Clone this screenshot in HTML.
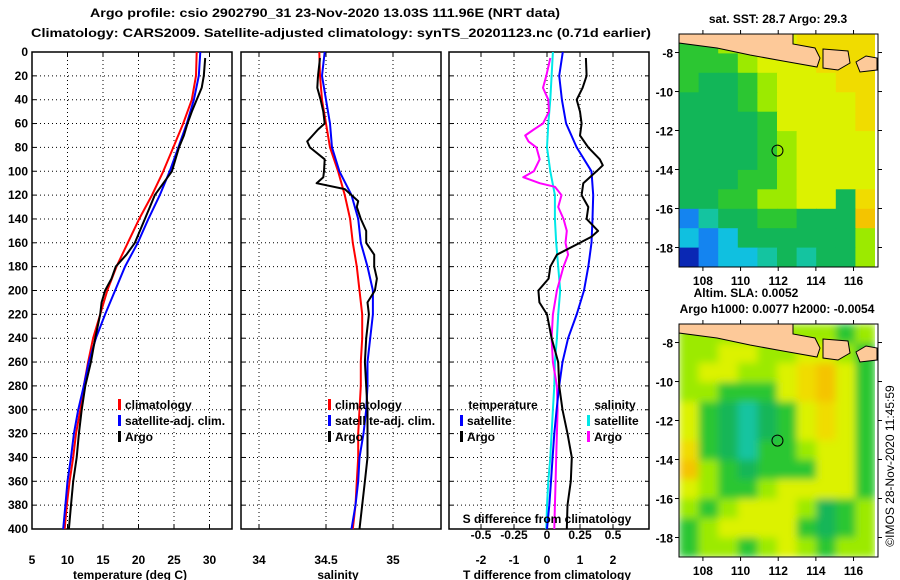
<!DOCTYPE html>
<html><head><meta charset="utf-8"><style>
body{margin:0;background:#fff;}
svg{display:block;font-family:"Liberation Sans",Arial,sans-serif;}
text{font-weight:bold;font-size:12px;fill:#000;}
</style></head><body>
<svg id="fig" width="900" height="580" viewBox="0 0 900 580" xmlns="http://www.w3.org/2000/svg">
<defs>
<filter id="smooth" x="0" y="0" width="100%" height="100%"><feGaussianBlur stdDeviation="4" edgeMode="duplicate"/></filter>
<clipPath id="clip1"><rect x="679" y="34" width="196" height="233"/></clipPath>
<clipPath id="clip2"><rect x="679" y="324" width="196" height="233"/></clipPath>
</defs>
<text x="325" y="17" text-anchor="middle" font-size="13" textLength="470" lengthAdjust="spacingAndGlyphs">Argo profile: csio 2902790_31 23-Nov-2020 13.03S 111.96E (NRT data)</text>
<text x="341" y="37" text-anchor="middle" font-size="13" textLength="620" lengthAdjust="spacingAndGlyphs">Climatology: CARS2009. Satellite-adjusted climatology: synTS_20201123.nc (0.71d earlier)</text>
<g id="g1"></g>
<g id="g2"></g>
<g id="g3"></g>
<g id="m1"></g>
<g id="m2"></g>
<text x="778" y="23" text-anchor="middle">sat. SST: 28.7 Argo: 29.3</text>
<text x="746" y="297" text-anchor="middle">Altim. SLA: 0.0052</text>
<text x="777" y="313" text-anchor="middle">Argo h1000: 0.0077 h2000: -0.0054</text>
<text transform="translate(894,466) rotate(-90)" text-anchor="middle" style="font-weight:normal" font-size="12">©IMOS 28-Nov-2020 11:45:59</text>
</svg>
<script>
// ---- Temperature panel data ----
const tClimDepth=[0,20,40,60,80,100,120,140,160,180,200,220,240,260,280,300,320,340,360,380,400];
const tClim=[28.2,28.1,27.5,26.3,24.9,23.5,21.9,20.1,18.5,16.9,15.6,14.6,13.6,12.9,12.3,11.8,11.2,10.8,10.3,9.9,9.6];
const tSatDepth=[0,20,40,60,80,100,120,140,160,180,200,220,240,260,280,300,320,340,360,380,400];
const tSat=[28.7,28.5,27.8,26.8,25.6,24.4,23.0,21.4,19.9,18.1,16.7,15.3,14.0,13.0,12.3,11.5,10.9,10.5,10.0,9.7,9.4];
const tArgoDepth=[5,20,30,40,50,60,70,80,100,120,130,140,160,170,180,190,200,210,220,240,260,280,300,320,340,360,380,400];
const tArgo=[29.4,29.2,28.9,28.2,27.5,26.9,26.4,25.7,24.7,22.3,21.6,20.9,19.5,18.3,16.8,16.2,15.3,14.8,14.6,13.9,13.3,12.5,12.0,11.6,11.3,10.8,10.5,10.2];
// ---- Salinity panel data ----
const sClimDepth=[0,20,40,60,80,100,120,140,160,180,200,220,240,260,280,300,320,340,360,380,400];
const sClim=[34.45,34.455,34.47,34.5,34.53,34.59,34.64,34.68,34.70,34.73,34.75,34.77,34.77,34.76,34.76,34.75,34.74,34.74,34.73,34.72,34.70];
const sSatDepth=[0,20,40,60,80,100,120,140,160,180,200,220,240,260,280,300,320,340,360,380,400];
const sSat=[34.49,34.47,34.5,34.53,34.545,34.6,34.69,34.74,34.76,34.81,34.85,34.85,34.83,34.81,34.81,34.80,34.78,34.75,34.74,34.72,34.69];
const sArgoDepth=[5,20,30,40,50,60,65,70,75,80,90,100,105,110,115,125,130,140,150,160,170,180,190,200,210,220,240,260,280,300,320,340,360,380,400];
const sArgo=[34.455,34.44,34.435,34.46,34.48,34.49,34.44,34.40,34.36,34.38,34.49,34.485,34.48,34.43,34.64,34.74,34.73,34.76,34.80,34.80,34.86,34.86,34.88,34.865,34.81,34.82,34.80,34.79,34.80,34.81,34.81,34.81,34.79,34.77,34.75];
// ---- Difference panel data ----
const dTSatDepth=[0,20,40,60,80,100,120,140,160,180,200,220,240,260,280,300,320,340,360,380,400];
const dTSat=[0.48,0.37,0.45,0.58,0.9,1.35,1.4,1.38,1.35,1.25,1.12,0.9,0.64,0.47,0.37,0.29,0.22,0.17,0.12,0.07,0.0];
const dTArgoDepth=[5,20,30,40,50,60,70,80,90,95,100,110,120,130,140,150,155,160,170,180,190,200,210,220,230,240,260,280,300,320,340,360,380,400];
const dTArgo=[1.18,1.2,1.08,0.9,1.0,1.05,1.0,1.25,1.6,1.69,1.5,1.1,1.05,1.25,1.2,1.55,1.35,1.0,0.3,0.1,0.05,-0.26,-0.23,0.0,0.07,0.14,0.34,0.37,0.47,0.62,0.75,0.72,0.62,0.6];
const dSSatDepth=[0,20,40,60,80,100,120,140,160,180,200,220,240,260,280,300,320,340,360,380,400];
const dSSat=[0.045,0.035,0.025,0.01,0.0,0.025,0.06,0.06,0.07,0.085,0.1,0.085,0.075,0.06,0.055,0.045,0.035,0.025,0.01,0.0,-0.005];
const dSArgoDepth=[5,20,30,40,50,60,65,70,75,80,90,100,105,110,113,120,130,140,150,160,170,180,190,200,220,240,260,280,300,320,340,360,380,400];
const dSArgo=[0.025,-0.005,-0.03,0.01,0.015,-0.03,-0.1,-0.165,-0.14,-0.08,-0.055,-0.1,-0.18,-0.055,0.06,0.11,0.085,0.125,0.15,0.14,0.16,0.125,0.1,0.075,0.045,0.035,0.045,0.075,0.08,0.075,0.07,0.065,0.06,0.055];
const depthTicks=[0,20,40,60,80,100,120,140,160,180,200,220,240,260,280,300,320,340,360,380,400];
const tTicks=[5,10,15,20,25,30];
const sTicks=[34,34.5,35];
const sTickLabels=["34","34.5","35"];
const dTTicks=[-2,-1,0,1,2];
const dSTicks=[-0.5,-0.25,0,0.25,0.5];
const dSTickLabels=["-0.5","-0.25","0","0.25","0.5"];
// ---- Maps ----
const latTicks=[-8,-10,-12,-14,-16,-18];
const lonTicks=[108,110,112,114,116];
const argoLon=111.96, argoLat=-13.03;
const sstGrid=["GGggYYOOOO","GGGgYYYOOO","GDDGgYYYOO","DDDGgYYYYO","DDDDGYYYYO","DDDDGgYYYY","DDDDGgYYYY","DDDGGgYYYY","DDGGggYYDO","BTDDGGDDDo","CBCDDDDDDg","NBCCTDTDDg"];
const slaGrid=["ggggggggGg","ggYYggYYgG","gYYggYOoYG","ggGGGYOoYG","YGDTDGYOYG","YGDTDGYOYG","OGDTGGgYYG","ogGDGGGYYG","YgGGgYYYYG","gGgYYYgDGg","GgYYYYGDGg","GggGgYgGgg"];
const pal={L:"#fdc999",Y:"#dcf200",O:"#f0dc00",o:"#f4c400",g:"#9cea00",G:"#2cc632",D:"#12b658",T:"#14c4a0",C:"#10c0e0",B:"#1484f0",N:"#0a28b4"};

const NS="http://www.w3.org/2000/svg";
function mk(tag,attrs,parent){const e=document.createElementNS(NS,tag);for(const k in attrs)e.setAttribute(k,attrs[k]);parent.appendChild(e);return e;}
const yTop=52,yBot=529;
function yD(d){return yTop+d*(yBot-yTop)/400;}

function panel(g,x0,x1,xs,xt,xlab,yLabels){
  mk("rect",{x:x0,y:yTop,width:x1-x0,height:yBot-yTop,fill:"#fff",stroke:"none"},g);
  depthTicks.forEach((d,i)=>{
    if(d>0&&d<400){const gl=mk("line",{x1:x0,x2:x1,y1:yD(d),y2:yD(d),stroke:"#000","stroke-width":1,"stroke-dasharray":"1,3"},g);
    
    }
    mk("line",{x1:x0,x2:x0+4,y1:yD(d),y2:yD(d),stroke:"#000"},g);
    mk("line",{x1:x1-4,x2:x1,y1:yD(d),y2:yD(d),stroke:"#000"},g);
    if(yLabels){const t=mk("text",{x:x0-4,y:yD(d)+4,"text-anchor":"end"},g);t.textContent=d;
      
      }
  });
  xt.forEach((v,i)=>{
    const x=xs(v);
    if(x>x0+1&&x<x1-1){const gl=mk("line",{x1:x,x2:x,y1:yTop,y2:yBot,stroke:"#000","stroke-dasharray":"1,3"},g);
    
    }
    mk("line",{x1:x,x2:x,y1:yBot-4,y2:yBot,stroke:"#000"},g);
    mk("line",{x1:x,x2:x,y1:yTop,y2:yTop+4,stroke:"#000"},g);
    const t=mk("text",{x:x,y:564,"text-anchor":"middle"},g);t.textContent=xlab[i];
    
    
  });
  const fr=mk("rect",{x:x0,y:yTop,width:x1-x0,height:yBot-yTop,fill:"none",stroke:"#000","stroke-width":1.5},g);
  
  
}
function line(g,xs,depth,vals,color,w,name){
  const pts=depth.map((d,i)=>xs(vals[i]).toFixed(1)+","+yD(d).toFixed(1)).join(" ");
  const p=mk("polyline",{points:pts,fill:"none",stroke:color,"stroke-width":w,"stroke-linejoin":"round"},g);
  
  
}
function legend(g,x,y,color,label,name){
  mk("rect",{x:x,y:y-10,width:3,height:11,fill:color},g);
  const t=mk("text",{x:x+7,y:y},g);t.textContent=label;
  
  
}
function label(g,x,y,s,name){const t=mk("text",{x:x,y:y,"text-anchor":"middle"},g);t.textContent=s;
  
  return t;}

// Panel 1
const g1=document.getElementById("g1");
const xT=v=>32+(v-5)*7.1;
panel(g1,32,232,xT,tTicks,tTicks.map(String),true);
line(g1,xT,tClimDepth,tClim,"#f00",2,"temp-climatology-line");
line(g1,xT,tSatDepth,tSat,"#00f",2,"temp-satellite-line");
line(g1,xT,tArgoDepth,tArgo,"#000",2,"temp-argo-line");
legend(g1,118,409,"#f00","climatology","legend-climatology");
legend(g1,118,425,"#00f","satellite-adj. clim.","legend-satellite");
legend(g1,118,441,"#000","Argo","legend-argo");
label(g1,130,579,"temperature (deg C)","x-axis-title-temperature");

// Panel 2
const g2=document.getElementById("g2");
const xS=v=>259+(v-34)*134;
panel(g2,241,441,xS,sTicks,sTickLabels,false);
line(g2,xS,sClimDepth,sClim,"#f00",2,"sal-climatology-line");
line(g2,xS,sSatDepth,sSat,"#00f",2,"sal-satellite-line");
line(g2,xS,sArgoDepth,sArgo,"#000",2,"sal-argo-line");
legend(g2,328,409,"#f00","climatology","legend-climatology");
legend(g2,328,425,"#00f","satellite-adj. clim.","legend-satellite");
legend(g2,328,441,"#000","Argo","legend-argo");
label(g2,338,579,"salinity","x-axis-title-salinity");

// Panel 3
const g3=document.getElementById("g3");
const xDT=v=>547+v*33;
const xDS=v=>547+v*132;
panel(g3,449,649,xDT,dTTicks,dTTicks.map(String),false);
line(g3,xDS,dSSatDepth,dSSat,"#00e8e8",2,"sdiff-satellite-line");
line(g3,xDS,dSArgoDepth,dSArgo,"#f0f",2,"sdiff-argo-line");
line(g3,xDT,dTSatDepth,dTSat,"#00f",2,"tdiff-satellite-line");
line(g3,xDT,dTArgoDepth,dTArgo,"#000",2,"tdiff-argo-line");
label(g3,503,409,"temperature","legend-temperature-heading");
legend(g3,460,425,"#00f","satellite","legend-t-satellite");
legend(g3,460,441,"#000","Argo","legend-t-argo");
label(g3,615,409,"salinity","legend-salinity-heading");
legend(g3,587,425,"#00e8e8","satellite","legend-s-satellite");
legend(g3,587,441,"#f0f","Argo","legend-s-argo");
label(g3,547,523,"S difference from climatology","s-axis-title");
dSTicks.forEach((v,i)=>label(g3,xDS(v),539,dSTickLabels[i],"s-tick-label"));
label(g3,547,579,"T difference from climatology","x-axis-title-tdiff");

// Maps
function map(gid,y0,grid,blur,clipId){
  const g=document.getElementById(gid);
  const x0=679,x1=878,y1=y0+233;
  const lx=v=>x0+(v-106.73)*(x1-x0)/(117.3-106.73);
  const ly=v=>y0+(-7.05-v)*(y1-y0)/(19.0-7.05);
  const cw=(875-x0)/10,ch=(y1-y0)/12;
  const cg=mk("g",{"clip-path":"url(#"+clipId+")"},g);
  const inner=mk("g",blur?{filter:"url(#smooth)"}:{},cg);
  grid.forEach((row,r)=>{[...row].forEach((c,k)=>{
    const cell=mk("rect",{x:(x0+k*cw).toFixed(1),y:(y0+r*ch).toFixed(1),width:(cw+0.6).toFixed(1),height:(ch+0.6).toFixed(1),fill:pal[c]},inner);
    
    
  });});
  mk("rect",{x:875,y:y0,width:3,height:y1-y0,fill:"#fff"},g);
  const poly=(pts,name)=>{const P=mk("polygon",{points:pts.map(p=>p[0]+","+(y0+p[1])).join(" "),fill:pal.L,stroke:"#000","stroke-width":1},g);
    
    };
  poly([[679,0],[793,0],[793,10],[815,14],[820,24],[817,33],[783,27],[750,21],[717,14],[679,9]],"java-coastline");
  poly([[823,15],[848,17],[850,29],[838,36],[823,34]],"island-madura");
  poly([[856,28],[866,22],[877,24],[877,36],[860,38]],"island-bali");
  const fr=mk("rect",{x:x0,y:y0,width:x1-x0,height:y1-y0,fill:"none",stroke:"#000","stroke-width":1},g);
  
  
  latTicks.forEach(v=>{const y=ly(v);
    mk("line",{x1:x0-4,x2:x0,y1:y,y2:y,stroke:"#000"},g);
    mk("line",{x1:x1,x2:x1+4,y1:y,y2:y,stroke:"#000"},g);
    const t=mk("text",{x:x0-6,y:y+5,"text-anchor":"end","font-size":13},g);t.textContent=v;
    
    });
  lonTicks.forEach(v=>{const x=lx(v);
    mk("line",{x1:x,x2:x,y1:y1,y2:y1+4,stroke:"#000"},g);
    mk("line",{x1:x,x2:x,y1:y0-4,y2:y0,stroke:"#000"},g);
    const t=mk("text",{x:x,y:y1+18,"text-anchor":"middle","font-size":13},g);t.textContent=v;
    
    });
  const c=mk("circle",{cx:lx(argoLon),cy:ly(argoLat),r:5.5,fill:"none",stroke:"#000","stroke-width":1},g);
  
  
}
map("m1",34,sstGrid,false,"clip1");
map("m2",324,slaGrid,true,"clip2");
</script>
</body></html>
